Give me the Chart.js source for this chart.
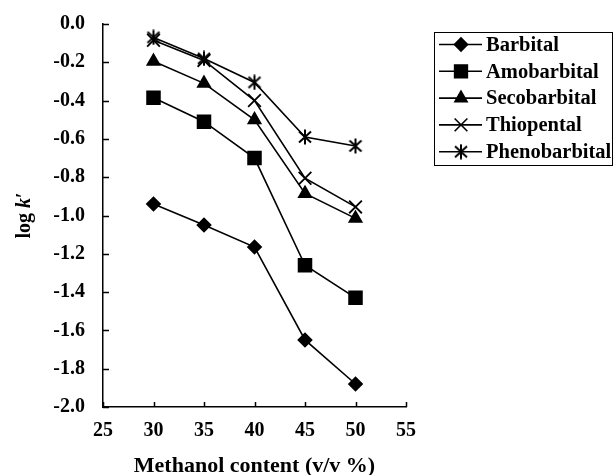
<!DOCTYPE html>
<html>
<head>
<meta charset="utf-8">
<script src="https://cdn.jsdelivr.net/npm/chart.js@4/dist/chart.umd.min.js"></script>
<style>
  html, body { margin: 0; padding: 0; background: #fff; }
  #wrap { width: 613px; height: 475px; }
</style>
</head>
<body>
<div id="wrap"><canvas id="chart" width="613" height="475"></canvas></div>
<script>
// data
const methanol = [30, 35, 40, 45, 50];
const barbital = [-0.94, -1.05, -1.165, -1.65, -1.88];
const amobarbital = [-0.385, -0.51, -0.70, -1.26, -1.43];
const secobarbital = [-0.195, -0.31, -0.50, -0.885, -1.015];
const thiopental = [-0.085, -0.19, -0.40, -0.805, -0.955];
const phenobarbital = [-0.07, -0.18, -0.305, -0.59, -0.637];

const seriesNames = ['Barbital', 'Amobarbital', 'Secobarbital', 'Thiopental', 'Phenobarbital'];
const seriesValues = [barbital, amobarbital, secobarbital, thiopental, phenobarbital];

const FONT = '"Liberation Serif", "Times New Roman", serif';

// asterisk marker: x plus vertical stroke
function makeAsterisk() {
    const c = document.createElement('canvas');
    c.width = 16; c.height = 16;
    const g = c.getContext('2d');
    g.strokeStyle = '#000';
    g.lineWidth = 2;
    g.beginPath();
    g.moveTo(2, 2.5); g.lineTo(14, 13.5);
    g.moveTo(14, 2.5); g.lineTo(2, 13.5);
    g.moveTo(8, 0.5); g.lineTo(8, 15.5);
    g.stroke();
    return c;
}

const markers = [
    { style: 'rectRot', radius: 6.5 },
    { style: 'rect', radius: 9 },
    { style: 'triangle', radius: 7 },
    { style: 'crossRot', radius: 9 },
    { style: makeAsterisk(), radius: 8 }
];

const datasets = seriesNames.map((name, i) => ({
    label: name,
    data: methanol.map((x, j) => ({ x: x, y: seriesValues[i][j] })),
    borderColor: '#000',
    backgroundColor: '#000',
    borderWidth: 1.6,
    pointStyle: markers[i].style,
    pointRadius: markers[i].radius,
    pointHoverRadius: markers[i].radius,
    pointBorderWidth: 1.8,
    pointBorderColor: '#000',
    pointBackgroundColor: '#000',
    tension: 0
}));

// inward tick marks, axis titles and boxed legend
const extras = {
    id: 'extras',
    afterDraw(chart) {
        const ctx = chart.ctx;
        const xs = chart.scales.x, ys = chart.scales.y;
        const area = chart.chartArea;
        ctx.save();
        ctx.strokeStyle = '#000';
        ctx.lineWidth = 1.5;
        ctx.beginPath();
        xs.ticks.forEach(t => {
            const px = Math.round(xs.getPixelForValue(t.value)) + 0.5;
            ctx.moveTo(px, area.bottom);
            ctx.lineTo(px, area.bottom - 5);
        });
        ys.ticks.forEach(t => {
            const py = Math.round(ys.getPixelForValue(t.value)) + 0.5;
            ctx.moveTo(area.left, py);
            ctx.lineTo(area.left + 6, py);
        });
        ctx.stroke();

        // x title
        ctx.fillStyle = '#000';
        ctx.font = 'bold 22px ' + FONT;
        ctx.textAlign = 'center';
        ctx.textBaseline = 'alphabetic';
        ctx.fillText('Methanol content (v/v %)', (area.left + area.right) / 2, 472);

        // y title with italic k
        ctx.save();
        ctx.translate(30, (area.top + area.bottom) / 2);
        ctx.rotate(-Math.PI / 2);
        const parts = [['log ', 'bold 20px '], ['k', 'italic bold 20px '], ['\u2032', 'bold 20px ']];
        let total = 0;
        parts.forEach(p => { ctx.font = p[1] + FONT; total += ctx.measureText(p[0]).width; });
        let cx = -total / 2;
        ctx.textAlign = 'left';
        parts.forEach(p => {
            ctx.font = p[1] + FONT;
            ctx.fillText(p[0], cx, 0);
            cx += ctx.measureText(p[0]).width;
        });
        ctx.restore();

        // legend
        ctx.lineWidth = 1;
        ctx.strokeRect(434.5, 32.5, 178, 133);
        ctx.font = 'bold 20.5px ' + FONT;
        ctx.textAlign = 'left';
        ctx.textBaseline = 'middle';
        chart.data.datasets.forEach((ds, i) => {
            const y = 44.5 + i * 26.8;
            ctx.lineWidth = 1.6;
            ctx.beginPath();
            ctx.moveTo(439, y);
            ctx.lineTo(482, y);
            ctx.stroke();
            Chart.helpers.drawPoint(ctx, {
                pointStyle: ds.pointStyle,
                radius: ds.pointRadius,
                borderWidth: 1.8,
                rotation: 0
            }, 461, y);
            ctx.fillText(ds.label, 486, y + 1);
        });
        ctx.restore();
    }
};

new Chart(document.getElementById('chart'), {
    type: 'line',
    data: { datasets: datasets },
    options: {
        responsive: false,
        animation: false,
        layout: { padding: { left: 0, right: 207, top: 24, bottom: 0 } },
        plugins: { legend: { display: false }, tooltip: { enabled: false } },
        scales: {
            x: {
                type: 'linear',
                min: 25, max: 55,
                ticks: {
                    stepSize: 5,
                    color: '#000',
                    padding: 12,
                    font: { family: FONT, size: 20, weight: 'bold' }
                },
                grid: { display: false, drawTicks: false },
                border: { display: true, color: '#000', width: 1.5 },
                afterFit(scale) {
                    scale.height = 68;
                    scale.paddingLeft = 0;
                    scale.paddingRight = 0;
                }
            },
            y: {
                min: -2, max: 0,
                ticks: {
                    stepSize: 0.2,
                    color: '#000',
                    padding: 18,
                    font: { family: FONT, size: 20, weight: 'bold' },
                    callback: v => v.toFixed(1)
                },
                grid: { display: false, drawTicks: false },
                border: { display: true, color: '#000', width: 1.5 },
                afterFit(scale) {
                    scale.width = 103;
                    scale.paddingTop = 0;
                    scale.paddingBottom = 0;
                }
            }
        }
    },
    plugins: [extras]
});
</script>
</body>
</html>
